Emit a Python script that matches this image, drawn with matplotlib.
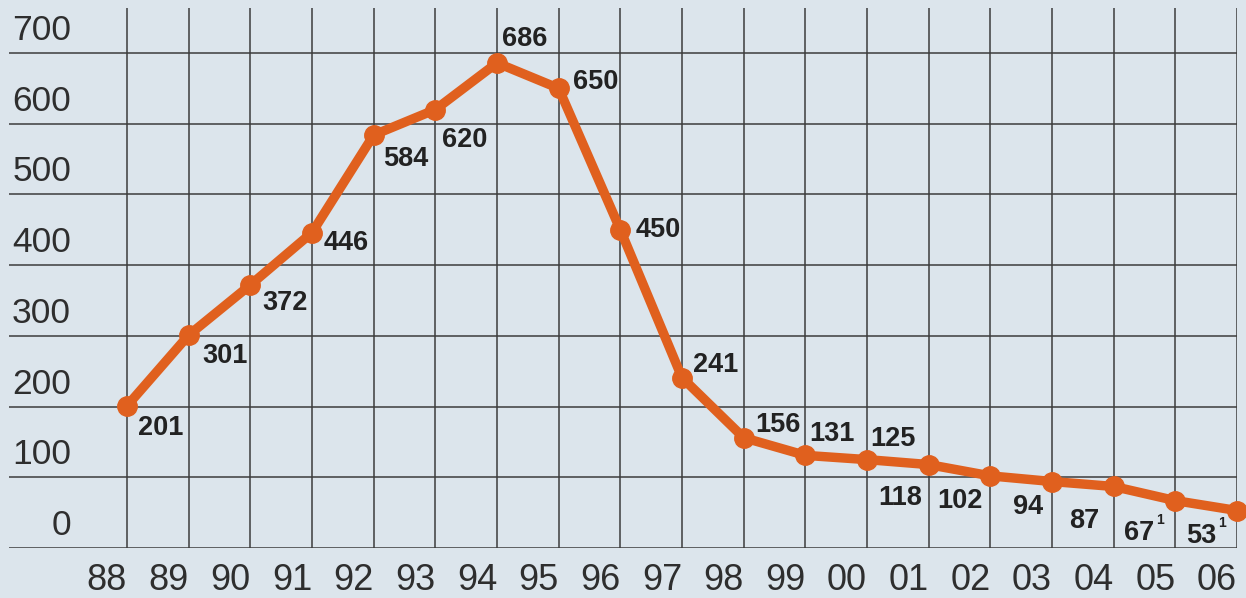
import numpy as np
import matplotlib
matplotlib.use("Agg")
import matplotlib.pyplot as plt
import matplotlib.transforms as mtransforms

# data
years = ["88", "89", "90", "91", "92", "93", "94", "95", "96", "97",
         "98", "99", "00", "01", "02", "03", "04", "05", "06"]
values = [201, 301, 372, 446, 584, 620, 686, 650, 450, 241,
          156, 131, 125, 118, 102, 94, 87, 67, 53]
notes = [""] * 17 + ["1", "1"]
yticks = [0, 100, 200, 300, 400, 500, 600, 700]

# label placement in pixels relative to each point (dx, dy up)
label_offsets = [(34, -20), (36, -18), (35, -16), (34, -8), (32, -21),
                 (29, -28), (28, 26), (37, 9), (38, 2), (34, 15),
                 (34, 15), (27, 24), (26, 23), (-28, -31), (-30, -23),
                 (-24, -23), (-29, -32), (-36, -30), (-36, -23)]

bg = "#dce5ec"
orange = "#e0601e"
grid_c = "#3c3c3c"
txt_c = "#222222"
plt.rcParams["font.family"] = ["Liberation Sans", "DejaVu Sans"]

W, H = 1246, 598
fig = plt.figure(figsize=(W / 100, H / 100), dpi=100, facecolor=bg)
# axes box in pixels: x 9..1237, y 8..548 (from top)
ax = fig.add_axes([9 / W, (H - 548) / H, (1237 - 9) / W, 540 / H])
ax.set_facecolor(bg)

x = np.arange(len(years))
step = (1237 - 127) / 18
ax.set_xlim(-(127 - 9) / step, 18)
ax.set_ylim(0, 540 / (495 / 700))

for s in ax.spines.values():
    s.set_visible(False)

for v in yticks:
    ax.axhline(v, color=grid_c, lw=1.1, zorder=1)
for xi in x:
    ax.axvline(xi, color=grid_c, lw=1.1, zorder=1)

ax.plot(x, values, color=orange, lw=6.8, marker="o", markersize=14,
        solid_joinstyle="round", zorder=3, clip_on=False)

for xi, v, n, (dx, dy) in zip(x, values, notes, label_offsets):
    ax.annotate(str(v), (xi, v), xytext=(dx, dy - 9.5), textcoords="offset pixels",
                ha="center", va="baseline", fontsize=19.5, fontweight="bold",
                color=txt_c, zorder=4)
    if n:
        ax.annotate(n, (xi, v), xytext=(dx + 21, dy + 7), textcoords="offset pixels",
                    ha="center", va="baseline", fontsize=10, fontweight="bold",
                    color=txt_c, zorder=4)

# y labels sit above their gridlines, right aligned near the left edge
ylab_tr = mtransforms.blended_transform_factory(fig.transFigure, ax.transData)
for v in yticks:
    ax.text(71 / W, v, str(v), transform=ylab_tr + mtransforms.ScaledTranslation(0, 0.13, fig.dpi_scale_trans),
            ha="right", va="baseline", fontsize=25.5, color="#2e2e2e")

ax.set_yticks([])
ax.set_xticks(x)
ax.set_xticklabels(years, fontsize=26, color="#2e2e2e")
ax.tick_params(axis="x", length=0, pad=11)
shift = mtransforms.ScaledTranslation(-0.20, 0, fig.dpi_scale_trans)
for lab in ax.get_xticklabels():
    lab.set_transform(lab.get_transform() + shift)

fig.savefig("out.png", dpi=100, facecolor=bg)
